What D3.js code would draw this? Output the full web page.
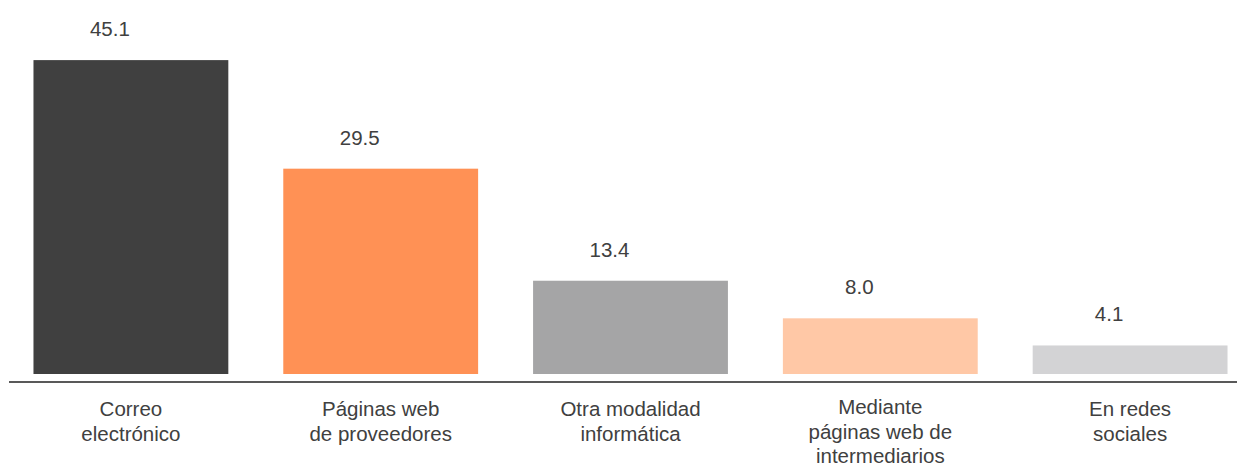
<!DOCTYPE html>
<html>
<head>
<meta charset="utf-8">
<script src="https://cdn.jsdelivr.net/npm/d3@7"></script>
<style>
  body { margin: 0; background: #fff; }
  text { font-family: "Liberation Sans", Arial, sans-serif; fill: #404040; }
</style>
</head>
<body>
<script>
// bar chart: share by channel (%)

var categories = ["Correo electrónico", "Páginas web de proveedores", "Otra modalidad informática",
  "Mediante páginas web de intermediarios", "En redes sociales"];
var labelLines = [
  ["Correo", "electrónico"],
  ["Páginas web", "de proveedores"],
  ["Otra modalidad", "informática"],
  ["Mediante", "páginas web de", "intermediarios"],
  ["En redes", "sociales"]
];
var values = [45.1, 29.5, 13.4, 8.0, 4.1];
var colors = ["#404040", "#ff9155", "#a5a5a6", "#ffc8a6", "#d3d3d5"];

var width = 1237, height = 466;

var svg = d3.select("body")
  .append("svg")
  .attr("width", width)
  .attr("height", height);

var x = d3.scaleBand()
  .domain(categories)
  .range([6, 1255])
  .paddingInner(0.22)
  .paddingOuter(0.11);

var y = d3.scaleLinear()
  .domain([0, 50])
  .range([374, 26]);

var data = categories.map(function (c, i) {
  return { cat: c, value: values[i], color: colors[i], lines: labelLines[i] };
});

svg.selectAll("rect.bar")
  .data(data)
  .enter()
  .append("rect")
  .attr("class", "bar")
  .attr("x", function (d) { return x(d.cat); })
  .attr("y", function (d) { return y(d.value); })
  .attr("width", x.bandwidth())
  .attr("height", function (d) { return y(0) - y(d.value); })
  .style("fill", function (d) { return d.color; });

// value labels, sitting a bit left of bar centre like the original
svg.selectAll("text.val")
  .data(data)
  .enter()
  .append("text")
  .attr("class", "val")
  .attr("x", function (d) { return x(d.cat) + x.bandwidth() / 2 - 21; })
  .attr("y", function (d) { return y(d.value) - 24; })
  .attr("text-anchor", "middle")
  .style("font-size", "20.5px")
  .text(function (d) { return d.value.toFixed(1); });

// baseline
svg.append("line")
  .attr("x1", 9)
  .attr("x2", width)
  .attr("y1", 382)
  .attr("y2", 382)
  .style("stroke", "#595959")
  .style("stroke-width", 2);

// category labels
var cat = svg.selectAll("text.cat")
  .data(data)
  .enter()
  .append("text")
  .attr("class", "cat")
  .attr("text-anchor", "middle")
  .style("font-size", "20.5px")
  .attr("transform", function (d) {
    return "translate(" + (x(d.cat) + x.bandwidth() / 2) + "," + (d.lines.length > 2 ? 414 : 416) + ")";
  });

cat.selectAll("tspan")
  .data(function (d) { return d.lines; })
  .enter()
  .append("tspan")
  .attr("x", 0)
  .attr("y", function (d, i) { return i * 24.5; })
  .text(function (d) { return d; });
</script>
</body>
</html>
